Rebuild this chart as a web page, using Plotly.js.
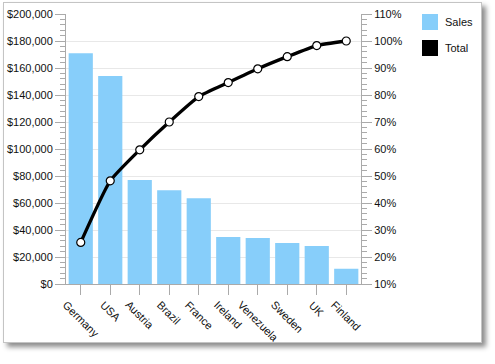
<!DOCTYPE html>
<html>
<head>
<meta charset="utf-8">
<script src="https://cdn.plot.ly/plotly-3.0.1.min.js"></script>
<style>
html,body{margin:0;padding:0;background:#fff;width:495px;height:364px;overflow:hidden;}
#frame{position:absolute;left:3px;top:2px;width:479px;height:341px;box-sizing:border-box;border:1px solid #c4c4c4;background:#fff;box-shadow:4px 4px 5px rgba(0,0,0,0.45);}
#chart{position:absolute;left:0;top:0;width:495px;height:364px;}
</style>
</head>
<body>
<div id="frame"></div>
<div id="chart"></div>
<script>
var countries = ["Germany","USA","Austria","Brazil","France","Ireland","Venezuela","Sweden","UK","Finland"];
var sales = [171000, 154000, 77000, 69500, 63500, 34800, 34000, 30400, 28100, 11300];
var cumulativePct = [25.4, 48.2, 59.7, 70.0, 79.4, 84.6, 89.7, 94.2, 98.3, 100];
var legendLabels = ["Sales","Total"];
var barColor = "#87CEFA";
var lineColor = "#000000";

var font = {family: "Liberation Sans, Arial, sans-serif", size: 11, color: "#111"};
var axisGray = "#aaaaaa";

var traces = [
  {type: "bar", x: countries, y: sales, marker: {color: barColor}, showlegend: false, hoverinfo: "x+y"},
  {type: "scatter", mode: "lines+markers", x: countries, y: cumulativePct, yaxis: "y2",
   line: {color: lineColor, width: 3.3, shape: "spline", smoothing: 0.5},
   marker: {size: 8, color: "#fff", line: {color: "#000", width: 1.2}}, showlegend: false}
];

var W = 295, H = 270, L = 66, T = 14;
function px(x){ return (x - L) / W; }
function py(y){ return 1 - (y - T) / H; }

var annotations = countries.map(function(c){
  return {x: c, xref: "x", y: 0, yref: "paper", yshift: -12, text: c, showarrow: false,
          textangle: 45, xanchor: "center", yanchor: "top", font: font};
});
annotations.push({x: px(443), xref: "paper", y: py(22), yref: "paper", text: legendLabels[0], showarrow: false, xanchor: "left", yanchor: "middle", font: font});
annotations.push({x: px(443), xref: "paper", y: py(48), yref: "paper", text: legendLabels[1], showarrow: false, xanchor: "left", yanchor: "middle", font: font});

var shapes = [
  {type: "rect", xref: "paper", yref: "paper", x0: px(422), x1: px(438), y0: py(30), y1: py(14), fillcolor: barColor, line: {width: 0}},
  {type: "rect", xref: "paper", yref: "paper", x0: px(422), x1: px(438), y0: py(56), y1: py(40), fillcolor: lineColor, line: {width: 0}}
];

var layout = {
  width: 495, height: 364,
  margin: {l: 66, r: 134, t: 14, b: 80},
  paper_bgcolor: "rgba(0,0,0,0)", plot_bgcolor: "#fff",
  font: font,
  bargap: 0.18,
  showlegend: false,
  xaxis: {type: "category", range: [-0.5, countries.length - 0.5], showticklabels: false, ticks: "outside", ticklen: 10, tickcolor: axisGray,
          showline: true, linecolor: axisGray, linewidth: 1, showgrid: false, zeroline: false, fixedrange: true},
  yaxis: {range: [0, 200000], dtick: 20000, tickformat: "$,.0f", ticks: "outside", ticklen: 10, tickcolor: axisGray,
          showline: true, linecolor: axisGray, gridcolor: "#e8e8e8", zeroline: false, tickfont: font,
          minor: {dtick: 4000, ticks: "outside", ticklen: 5, tickcolor: axisGray, showgrid: false}},
  yaxis2: {overlaying: "y", side: "right", range: [10, 110], dtick: 10, ticksuffix: "%", ticks: "outside", ticklen: 10,
           tickcolor: axisGray, showline: true, linecolor: axisGray, showgrid: false, zeroline: false, tickfont: font,
           minor: {dtick: 2, ticks: "outside", ticklen: 5, tickcolor: axisGray, showgrid: false}},
  annotations: annotations,
  shapes: shapes
};

Plotly.newPlot("chart", traces, layout, {displayModeBar: false, staticPlot: true});
</script>
</body>
</html>
